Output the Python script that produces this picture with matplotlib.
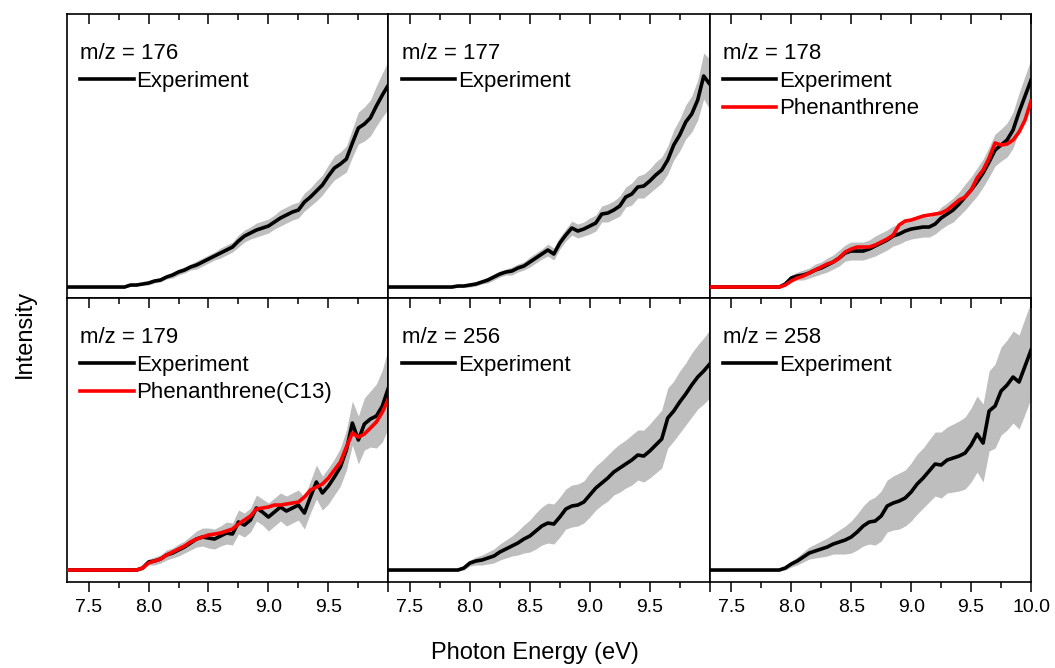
import numpy as np
import matplotlib
matplotlib.use("Agg")
import matplotlib.pyplot as plt
from matplotlib.ticker import MultipleLocator, FixedLocator, FixedFormatter

plt.rcParams['font.family'] = ['Liberation Sans', 'DejaVu Sans']

# photon energy grid (eV)
energy = np.round(np.arange(7.30, 10.001, 0.05), 2)

# intensities (arbitrary units)
exp_176 = [11]*11 + [13, 13, 14, 15, 17, 18, 21, 23, 26, 28, 31, 33, 36, 39, 42, 45, 48, 51, 57, 62,
                     65, 68, 70, 72, 76, 80, 83, 86, 88, 96, 101, 107, 113, 122, 130, 134, 139, 155, 170, 174,
                     180, 192, 203, 213]
err_176 = [1]*11 + [1, 1, 1, 2, 2, 2, 2, 3, 3, 3, 3, 4, 4, 4, 4, 5, 5, 5, 6, 6,
                    6, 7, 7, 7, 7, 8, 8, 8, 8, 9, 9, 10, 10, 11, 12, 12, 13, 14, 16, 17,
                    18, 20, 22, 24]

exp_177 = [11]*11 + [11, 12, 12, 13, 14, 16, 18, 21, 24, 26, 27, 30, 32, 36, 40, 44, 48, 44, 55, 63,
                     70, 67, 69, 72, 75, 84, 85, 88, 92, 101, 104, 111, 112, 117, 123, 128, 138, 153, 163, 176,
                     184, 198, 222, 214]
err_177 = [1]*11 + [1, 1, 1, 2, 2, 2, 3, 3, 3, 3, 4, 4, 4, 5, 5, 5, 6, 6, 6, 6,
                    7, 7, 7, 8, 8, 8, 9, 9, 10, 10, 11, 11, 12, 12, 13, 13, 14, 15, 16, 17,
                    18, 20, 23, 25]

exp_178 = [11]*13 + [14, 20, 22, 23, 25, 28, 30, 33, 36, 40, 45, 47, 47, 47, 49, 52, 55, 58, 62, 64,
                     67, 69, 70, 71, 71, 74, 80, 84, 88, 94, 101, 108, 116, 125, 136, 148, 153, 158, 168, 186,
                     202, 218]
phen_178 = [11]*13 + [13, 17, 20, 22, 25, 28, 31, 34, 36, 40, 46, 49, 51, 51, 51, 53, 56, 59, 63, 73,
                      77, 78, 80, 82, 83, 84, 85, 88, 93, 98, 101, 108, 120, 128, 140, 155, 153, 154, 158, 166,
                      178, 197]
err_178 = [1]*13 + [2, 3, 4, 5, 5, 6, 6, 7, 7, 8, 8, 9, 9, 9, 9, 10, 10, 10, 10, 10,
                    10, 10, 10, 10, 10, 10, 11, 11, 12, 12, 13, 13, 14, 14, 15, 16, 16, 17, 18, 19,
                    20, 21]

exp_179 = [12]*13 + [14, 20, 21, 23, 27, 29, 32, 35, 39, 43, 45, 44, 43, 46, 49, 48, 60, 57, 62, 74,
                     70, 65, 70, 75, 71, 74, 77, 69, 85, 100, 89, 96, 105, 115, 132, 159, 142, 158, 163, 166,
                     176, 194]
phen_179 = [12]*13 + [14, 19, 21, 23, 27, 30, 33, 36, 40, 43, 45, 47, 48, 49, 51, 53, 58, 62, 66, 73,
                      74, 75, 77, 77, 78, 79, 80, 85, 92, 95, 98, 104, 112, 120, 135, 149, 145, 148, 154, 160,
                      170, 183]
err_179 = [1]*13 + [2, 3, 4, 4, 5, 5, 6, 6, 7, 8, 9, 10, 10, 10, 11, 11, 12, 12, 12, 13,
                    13, 14, 14, 14, 15, 15, 15, 16, 16, 17, 17, 18, 18, 19, 20, 22, 24, 26, 28, 32,
                    36, 40]

exp_256 = [12]*13 + [14, 19, 21, 22, 24, 26, 30, 33, 36, 39, 43, 46, 51, 56, 59, 58, 65, 73, 76, 77,
                     80, 87, 94, 99, 104, 110, 114, 118, 122, 127, 126, 131, 137, 143, 164, 171, 180, 188, 197, 205,
                     211, 218]
err_256 = [1]*13 + [2, 3, 4, 5, 6, 7, 8, 9, 10, 12, 14, 16, 18, 19, 20, 20, 20, 20, 21, 21,
                    21, 22, 22, 22, 23, 23, 24, 24, 25, 25, 26, 27, 28, 29, 30, 30, 31, 31, 32, 32,
                    33, 34]

exp_258 = [12]*13 + [14, 18, 21, 25, 29, 31, 33, 35, 38, 40, 42, 45, 50, 56, 60, 61, 66, 76, 79, 81,
                     84, 90, 98, 104, 111, 118, 117, 122, 124, 126, 129, 137, 148, 139, 171, 176, 191, 197, 205, 200,
                     216, 232]
err_258 = [1]*13 + [2, 3, 4, 5, 6, 7, 8, 9, 10, 12, 14, 16, 18, 20, 22, 24, 25, 26, 27, 28,
                    28, 29, 30, 30, 31, 32, 33, 33, 34, 35, 36, 37, 38, 39, 40, 42, 44, 45, 46, 47,
                    48, 48]

masses = ['176', '177', '178', '179', '256', '258']
experiments = [exp_176, exp_177, exp_178, exp_179, exp_256, exp_258]
errors = [err_176, err_177, err_178, err_179, err_256, err_258]
references = {'178': (phen_178, 'Phenanthrene'), '179': (phen_179, 'Phenanthrene(C13)')}

major_ticks = [7.5, 8.0, 8.5, 9.0, 9.5, 10.0]

fig, axes = plt.subplots(2, 3, figsize=(10.55, 6.68), dpi=100)
fig.subplots_adjust(left=0.0635, right=0.9773, top=0.979, bottom=0.1287, wspace=0, hspace=0)

for i, ax in enumerate(axes.flat):
    mz = masses[i]
    y = np.array(experiments[i], dtype=float)
    e = np.array(errors[i], dtype=float)
    ax.fill_between(energy, y - e, y + e, color='#bebebe', lw=0, zorder=1)
    ax.plot(energy, y, color='black', lw=2.6, label='Experiment', zorder=3)
    if mz in references:
        ref, name = references[mz]
        ax.plot(energy, ref, color='#ff0000', lw=2.6, label=name, zorder=4)

    ax.set_xlim(7.32, 10.0)
    ax.set_ylim(0, 284)
    ax.set_yticks([])
    ax.xaxis.set_major_locator(FixedLocator(major_ticks))
    ax.xaxis.set_minor_locator(MultipleLocator(0.25))
    labels = ['%.1f' % t for t in major_ticks]
    if i % 3 < 2:
        labels[-1] = ''
    ax.xaxis.set_major_formatter(FixedFormatter(labels))
    for s in ax.spines.values():
        s.set_linewidth(1.2)

    bottom_row = i >= 3
    ax.tick_params(axis='x', which='both', top=True, bottom=bottom_row,
                   labelbottom=bottom_row, width=1.1)
    ax.tick_params(axis='x', which='major', direction='out', length=7, labelsize=14, pad=5)
    ax.tick_params(axis='x', which='minor', direction='out', length=4)
    # top ticks point inward
    for t in ax.xaxis.get_major_ticks():
        t.tick2line.set_marker(3)
        t.tick2line.set_markersize(7)
    for t in ax.xaxis.get_minor_ticks():
        t.tick2line.set_marker(3)
        t.tick2line.set_markersize(4)

    ax.legend(title='m/z = ' + mz, loc='upper left', bbox_to_anchor=(0.0, 0.945),
              frameon=False, fontsize=16, title_fontsize=16, alignment='left',
              handlelength=2.4, handletextpad=0.12, labelspacing=0.3,
              borderaxespad=0.4, borderpad=0.2)

fig.text(535 / 1055, 1 - 653 / 668, 'Photon Energy (eV)', fontsize=17, ha='center', va='center')
fig.text(25 / 1055, 0.5, 'Intensity', fontsize=17, ha='center', va='center', rotation=90)

fig.savefig('out.png', dpi=100)
